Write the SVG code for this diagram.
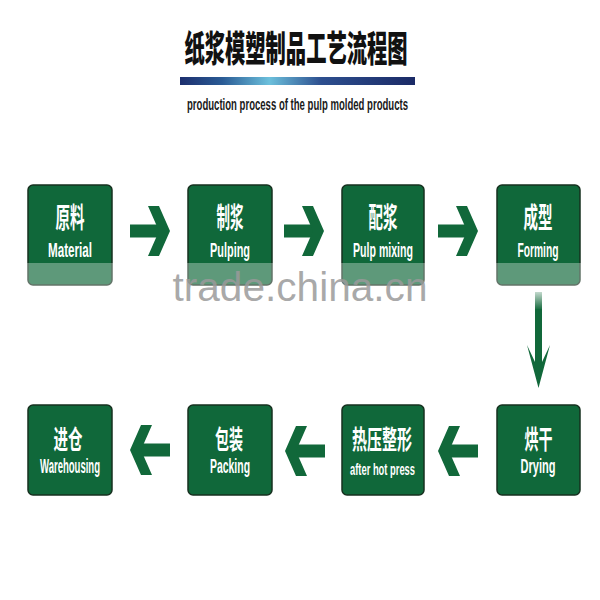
<svg xmlns="http://www.w3.org/2000/svg" width="600" height="600" viewBox="0 0 600 600">
<style>
.box{fill:#10683a;stroke:#16301f;stroke-width:1.5}
.zh{font-family:"Noto Sans CJK SC",sans-serif;font-weight:bold;fill:#ffffff;text-anchor:middle}
.en{font-family:"Liberation Sans Narrow","Liberation Sans",sans-serif;font-weight:bold;fill:#ffffff;text-anchor:middle}
.arr{fill:#11683a}
</style>
<defs>
<linearGradient id="bar" x1="0" y1="0" x2="1" y2="0">
<stop offset="0" stop-color="#1d2f6e"/>
<stop offset="0.18" stop-color="#2a5b95"/>
<stop offset="0.38" stop-color="#6cc0dc"/>
<stop offset="0.6" stop-color="#2d4f8f"/>
<stop offset="1" stop-color="#1b2a66"/>
</linearGradient>
<linearGradient id="fadeTop" x1="0" y1="0" x2="0" y2="1">
<stop offset="0" stop-color="#11683a" stop-opacity="0.25"/>
<stop offset="1" stop-color="#11683a" stop-opacity="1"/>
</linearGradient>
<g id="rarr"><rect x="-40" y="-6.5" width="29" height="13"/><polygon points="-22,-25 -11,-25 0,0 -11,25 -22,25 -11,0"/></g>
</defs>
<rect width="600" height="600" fill="#ffffff"/>
<g id="title">
<text x="296" y="62" textLength="223" lengthAdjust="spacingAndGlyphs" style="font-family:'Noto Sans CJK SC',sans-serif;font-weight:900;font-size:36px;fill:#111;text-anchor:middle">纸浆模塑制品工艺流程图</text>
<rect x="180" y="77" width="235" height="8" fill="url(#bar)"/>
<text x="297.5" y="110" textLength="221" lengthAdjust="spacingAndGlyphs" style="font-family:'Liberation Sans Narrow','Liberation Sans',sans-serif;font-weight:bold;font-size:16px;fill:#1a1a1a;text-anchor:middle">production process of the pulp molded products</text>
</g>
<g id="n1"><rect class="box" x="28" y="185" width="84" height="100" rx="5"/><text class="zh" x="70" y="228" font-size="28" textLength="29" lengthAdjust="spacingAndGlyphs">原料</text><text class="en" x="70" y="257" font-size="21" textLength="44" lengthAdjust="spacingAndGlyphs">Material</text></g>
<g id="n2"><rect class="box" x="188" y="185" width="84" height="100" rx="5"/><text class="zh" x="230" y="228" font-size="28" textLength="27" lengthAdjust="spacingAndGlyphs">制浆</text><text class="en" x="230" y="257" font-size="21" textLength="40" lengthAdjust="spacingAndGlyphs">Pulping</text></g>
<g id="n3"><rect class="box" x="342" y="185" width="82" height="100" rx="5"/><text class="zh" x="383" y="228" font-size="28" textLength="29" lengthAdjust="spacingAndGlyphs">配浆</text><text class="en" x="383" y="257" font-size="21" textLength="60" lengthAdjust="spacingAndGlyphs">Pulp mixing</text></g>
<g id="n4"><rect class="box" x="497" y="185" width="83" height="100" rx="5"/><text class="zh" x="538" y="228" font-size="28" textLength="29" lengthAdjust="spacingAndGlyphs">成型</text><text class="en" x="538" y="257" font-size="21" textLength="41" lengthAdjust="spacingAndGlyphs">Forming</text></g>
<g id="n5"><rect class="box" x="497" y="405" width="83" height="90" rx="5"/><text class="zh" x="538.5" y="449" font-size="26" textLength="28" lengthAdjust="spacingAndGlyphs">烘干</text><text class="en" x="538" y="473" font-size="20" textLength="35" lengthAdjust="spacingAndGlyphs">Drying</text></g>
<g id="n6"><rect class="box" x="342" y="405" width="82" height="90" rx="5"/><text class="zh" x="382" y="449" font-size="26" textLength="60" lengthAdjust="spacingAndGlyphs">热压整形</text><text class="en" x="382.5" y="475" font-size="17" textLength="65" lengthAdjust="spacingAndGlyphs">after hot press</text></g>
<g id="n7"><rect class="box" x="188" y="405" width="84" height="90" rx="5"/><text class="zh" x="229" y="449" font-size="26" textLength="28" lengthAdjust="spacingAndGlyphs">包装</text><text class="en" x="230" y="473" font-size="20" textLength="40" lengthAdjust="spacingAndGlyphs">Packing</text></g>
<g id="n8"><rect class="box" x="28" y="405" width="84" height="90" rx="5"/><text class="zh" x="68" y="449" font-size="26" textLength="29" lengthAdjust="spacingAndGlyphs">进仓</text><text class="en" x="70" y="473" font-size="20" textLength="60" lengthAdjust="spacingAndGlyphs">Warehousing</text></g>
<g id="connectors" class="arr">
<use href="#rarr" transform="translate(170,231)"/>
<use href="#rarr" transform="translate(324,231)"/>
<use href="#rarr" transform="translate(478,231)"/>
<rect x="535" y="292" width="7" height="18" fill="url(#fadeTop)"/>
<polygon points="535,309 542,309 542,362 550,345 538.5,388 527,345 535,362"/>
<use href="#rarr" transform="translate(438,451) rotate(180)"/>
<use href="#rarr" transform="translate(285,451) rotate(180)"/>
<use href="#rarr" transform="translate(130,450) rotate(180)"/>
</g>
<rect x="0" y="263" width="600" height="24" fill="#ffffff" fill-opacity="0.33"/>
<text x="300" y="301" textLength="255" lengthAdjust="spacingAndGlyphs" style="font-family:'Liberation Sans',sans-serif;font-size:40px;fill:#9a9a9a;fill-opacity:0.85;text-anchor:middle">trade.china.cn</text>
</svg>
